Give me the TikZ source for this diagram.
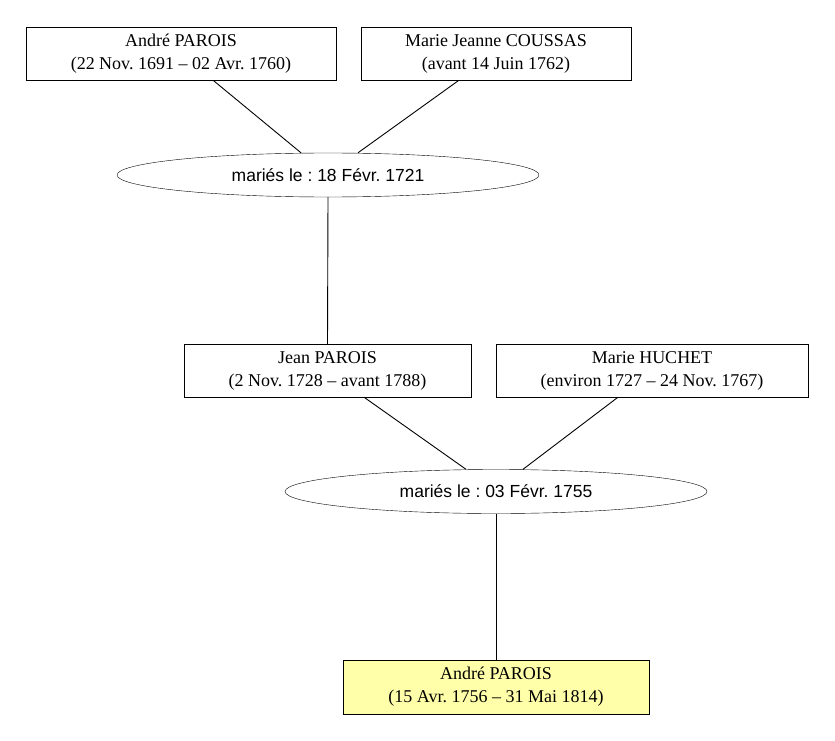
\documentclass[tikz,border=0pt]{standalone}
\usepackage{fontspec}
\setmainfont{Liberation Serif}
\newfontfamily\sansfont{Liberation Sans}
\usetikzlibrary{shapes.geometric}
\definecolor{enfant}{RGB}{255,255,170}
\frenchspacing

\begin{document}
\begin{tikzpicture}[x=1pt,y=-1pt,
  personne/.style={draw, rectangle, align=center, inner sep=0pt, minimum height=53pt, font=\fontsize{18}{23}\selectfont},
  mariage/.style={draw, ellipse, inner sep=0pt, minimum width=422pt, minimum height=44pt, font=\sansfont\fontsize{17.5}{21}\selectfont},
  lien/.style={line width=0.9pt}]

\useasboundingbox (0,0) rectangle (835,741);

% parents of Jean
\node[personne, minimum width=310pt] (andre1) at (181,53.5) {André PAROIS\\(22 Nov. 1691 \textendash{} 02 Avr. 1760)};
\node[personne, minimum width=270pt] (coussas) at (496,53.5) {Marie Jeanne COUSSAS\\(avant 14 Juin 1762)};

% first marriage
\node[mariage] (mariage1) at (328,175) {mariés le : 18 Févr. 1721};

% Jean and his wife
\node[personne, minimum width=287pt] (jean) at (327.5,370.5) {Jean PAROIS\\(2 Nov. 1728 \textendash{} avant 1788)};
\node[personne, minimum width=312pt] (huchet) at (652,370.5) {Marie HUCHET\\(environ 1727 \textendash{} 24 Nov. 1767)};

% second marriage
\node[mariage] (mariage2) at (496,491.5) {mariés le : 03 Févr. 1755};

% child
\node[personne, minimum width=306pt, minimum height=54pt, fill=enfant] (andre2) at (496,687) {André PAROIS\\(15 Avr. 1756 \textendash{} 31 Mai 1814)};

% links
\draw[lien] ([xshift=32pt]andre1.south) -- ([xshift=-27pt]mariage1.north);
\draw[lien] ([xshift=-37pt]coussas.south) -- ([xshift=30pt]mariage1.north);
\draw[lien] (mariage1.south) -- (jean.north);

\draw[lien] ([xshift=36.5pt]jean.south) -- ([xshift=-30pt]mariage2.north);
\draw[lien] ([xshift=-34pt]huchet.south) -- ([xshift=27pt]mariage2.north);
\draw[lien] (mariage2.south) -- (andre2.north);

\end{tikzpicture}
\end{document}
